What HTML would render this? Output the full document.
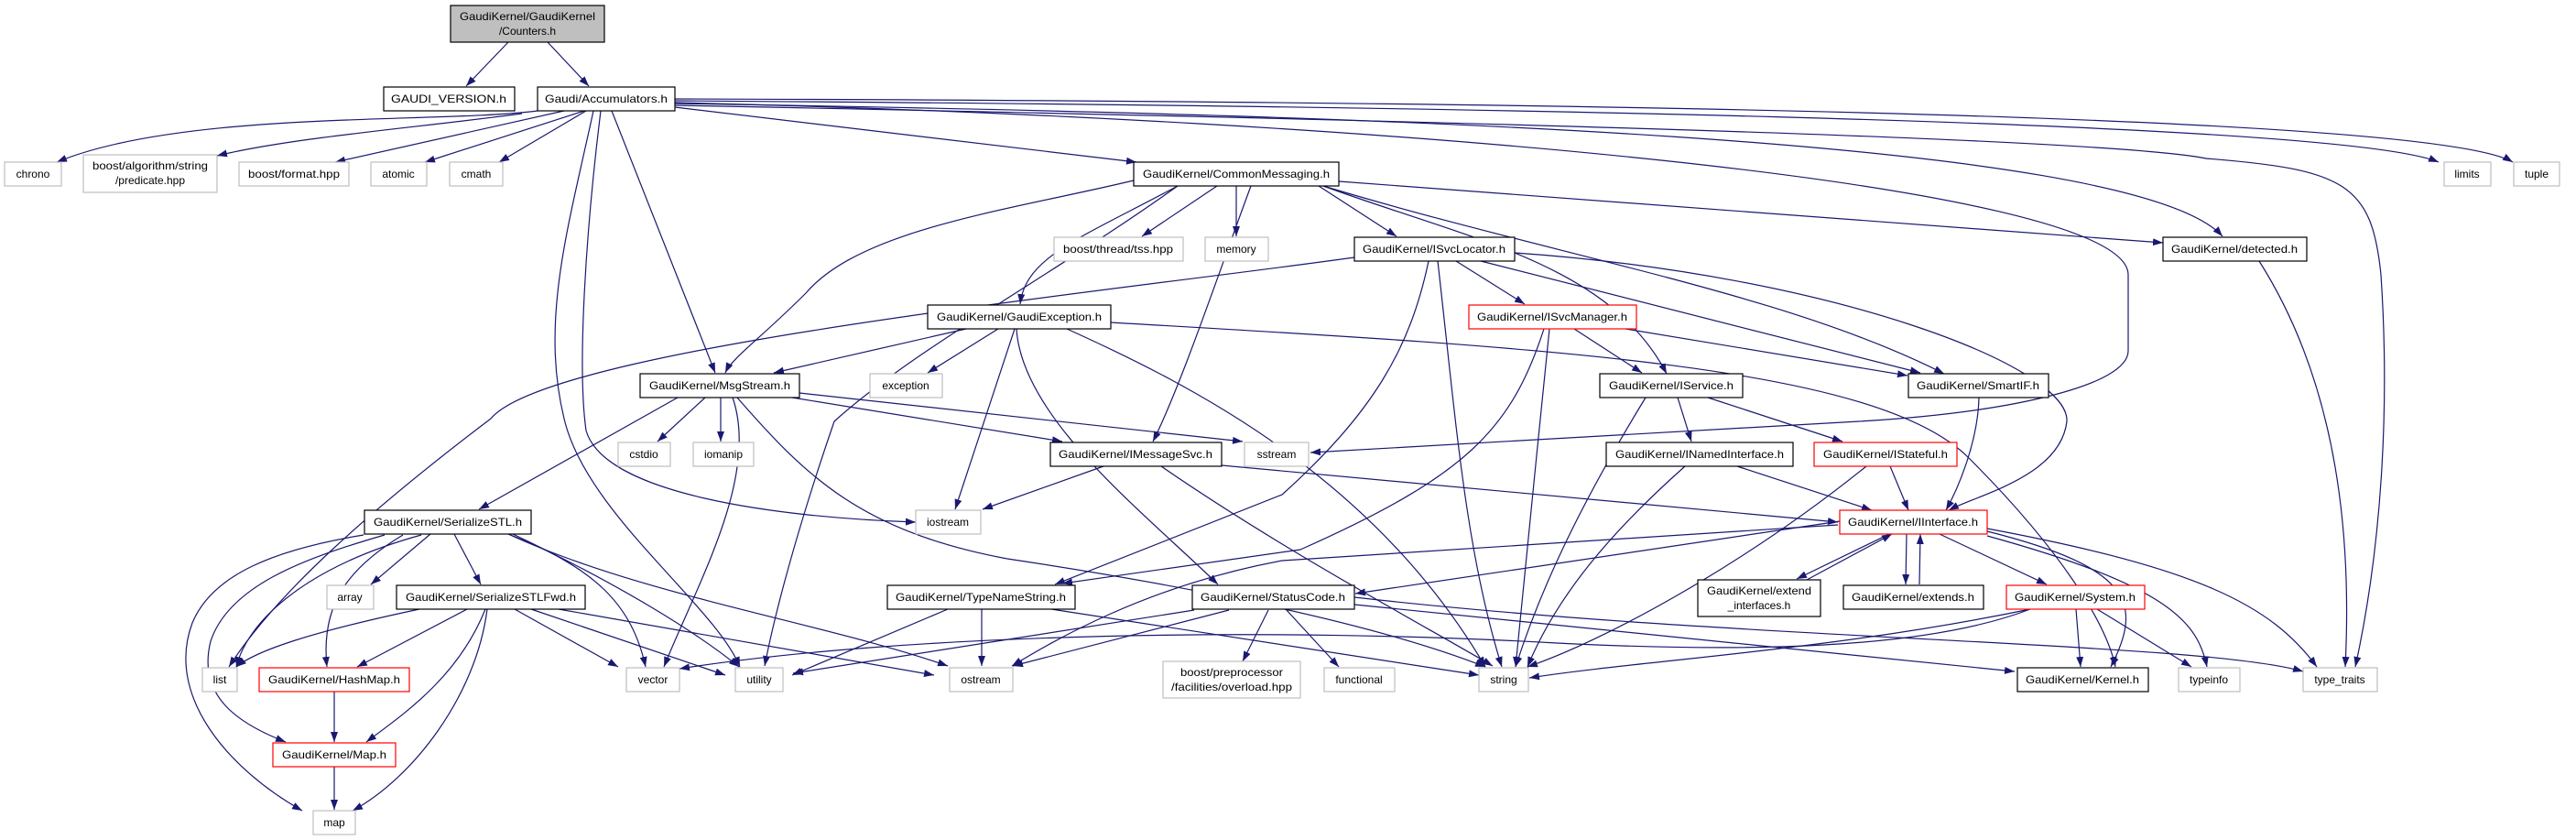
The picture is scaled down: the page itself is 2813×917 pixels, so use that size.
<!DOCTYPE html>
<html><head><meta charset="utf-8"><style>
html,body{margin:0;padding:0;background:#fff}
svg{display:block}
text{font-family:"Liberation Sans",sans-serif;font-size:12px;fill:#000}
.e{fill:none;stroke:#191970;stroke-width:1.2}
.g{fill:#fff;stroke:#bfbfbf;stroke-width:1.2}
.b{fill:#fff;stroke:#000;stroke-width:1.2}
.r{fill:#fff;stroke:#ff0000;stroke-width:1.2}
</style></head><body>
<svg width="2813" height="917" viewBox="0 0 2813 917" xmlns="http://www.w3.org/2000/svg">
<defs><marker id="a" markerUnits="userSpaceOnUse" markerWidth="12" markerHeight="10" refX="11" refY="4" orient="auto"><path d="M0,0 L11,4 L0,8 z" fill="#191970"/></marker></defs>
<g class="e" marker-end="url(#a)">
<path d="M555,46 L509,94"/>
<path d="M598,46 L643,94"/>
<path d="M587,121 C480,135 200,120 62,177"/>
<path d="M570,124 C450,140 320,150 237,170"/>
<path d="M616,121 L366,177"/>
<path d="M638,121 L464,177"/>
<path d="M640,121 L545,177"/>
<path d="M648,121 C620,250 590,350 616,457 C640,560 780,660 808,728"/>
<path d="M656,121 C640,250 630,400 640,470 C660,540 850,565 1000,570"/>
<path d="M668,121 L781,407"/>
<path d="M737,117 L1241,177"/>
<path d="M737,113 C1500,125 2330,150 2427,258"/>
<path d="M737,110 C1500,115 2550,130 2663,177"/>
<path d="M737,108 C1500,110 2650,120 2744,177"/>
<path d="M737,115 C1500,130 2300,150 2409,173 C2560,185 2590,200 2600,300 C2610,450 2600,600 2572,728"/>
<path d="M737,112 C1500,130 2324,200 2324,300 L2324,383 C2324,420 2200,450 2030,460 L1431,494"/>
<path d="M1238,197 C1100,230 940,250 880,320 C830,370 800,390 792,407"/>
<path d="M1286,203 C1150,300 1000,380 911,460 C880,550 850,650 835,727"/>
<path d="M1286,203 C1180,260 1120,280 1114,332"/>
<path d="M1329,203 L1247,258"/>
<path d="M1350,203 L1350,258"/>
<path d="M1366,203 C1330,300 1290,420 1259,482"/>
<path d="M1440,203 L1525,258"/>
<path d="M1445,203 C1600,260 1757,287 1820,408"/>
<path d="M1445,203 C1700,280 1950,320 2123,408"/>
<path d="M1462,198 L2362,265"/>
<path d="M1479,281 C1200,320 600,380 536,457 C400,560 300,650 250,728"/>
<path d="M1560,285 C1540,380 1500,450 1400,540 L1152,638"/>
<path d="M1570,285 C1590,460 1600,600 1640,728"/>
<path d="M1590,285 L1665,332"/>
<path d="M1617,285 L2097,407"/>
<path d="M1654,276 C2000,300 2260,400 2257,460 C2250,520 2160,540 2128,557"/>
<path d="M1719,359 L1793,407"/>
<path d="M1775,359 L2083,410"/>
<path d="M1692,359 C1680,480 1665,620 1655,728"/>
<path d="M1686,359 C1650,470 1600,520 1420,600 L1160,637"/>
<path d="M1055,359 L845,407"/>
<path d="M1090,359 L1013,407"/>
<path d="M1108,359 L1043,556"/>
<path d="M1110,359 C1116,457 1250,560 1330,638"/>
<path d="M1165,359 C1300,420 1500,520 1622,728"/>
<path d="M1213,352 C1700,380 2050,400 2150,500 C2250,600 2300,680 2310,728"/>
<path d="M740,434 L523,556"/>
<path d="M770,434 L718,482"/>
<path d="M787,434 L787,482"/>
<path d="M800,434 C830,520 760,640 725,728"/>
<path d="M805,434 C880,520 940,580 1100,610 C1300,640 1500,680 1622,728"/>
<path d="M865,434 L1160,482"/>
<path d="M873,429 L1357,482"/>
<path d="M1205,509 L1073,556"/>
<path d="M1268,509 C1400,600 1550,680 1630,727"/>
<path d="M1334,508 L2007,570"/>
<path d="M397,584 C300,600 232,627 210,680 C180,760 250,840 330,885"/>
<path d="M420,584 C330,610 250,640 230,700 C215,760 260,790 312,810"/>
<path d="M440,584 C380,620 350,660 357,728"/>
<path d="M460,584 C330,620 270,680 258,728"/>
<path d="M470,583 L405,638"/>
<path d="M496,583 L525,638"/>
<path d="M555,583 C650,620 690,660 705,728"/>
<path d="M560,583 C680,640 760,690 807,728"/>
<path d="M555,583 C700,650 900,680 1035,727"/>
<path d="M458,665 C340,690 280,710 258,728"/>
<path d="M510,665 L390,728"/>
<path d="M530,665 C500,740 440,780 400,810"/>
<path d="M532,665 C520,760 450,850 385,885"/>
<path d="M562,665 L675,728"/>
<path d="M580,665 L792,737"/>
<path d="M610,665 L1020,737"/>
<path d="M365,755 L365,810"/>
<path d="M365,837 L365,884"/>
<path d="M1035,665 L865,737"/>
<path d="M1072,665 L1072,727"/>
<path d="M1148,665 L1615,737"/>
<path d="M1304,666 L866,735"/>
<path d="M1342,666 L1106,727"/>
<path d="M1385,666 L1357,722"/>
<path d="M1404,665 L1462,728"/>
<path d="M1479,660 L2200,733"/>
<path d="M1479,652 C1900,700 2400,700 2515,733"/>
<path d="M1897,509 L2044,557"/>
<path d="M1840,509 C1760,580 1700,650 1668,728"/>
<path d="M2064,509 L2084,557"/>
<path d="M2038,509 C1900,620 1750,700 1668,728"/>
<path d="M1832,434 L1847,482"/>
<path d="M1865,434 L2012,482"/>
<path d="M1797,434 C1720,560 1680,650 1655,728"/>
<path d="M2161,434 C2160,480 2140,530 2125,557"/>
<path d="M2467,285 C2540,400 2570,550 2561,728"/>
<path d="M2009,569 L1480,648"/>
<path d="M2007,573 C1800,585 1600,600 1400,612 C1250,640 1150,700 1105,727"/>
<path d="M2063,583 L1962,632"/>
<path d="M1973,633 L2066,583"/>
<path d="M2082,583 L2081,638"/>
<path d="M2096,638 L2097,583"/>
<path d="M2118,583 L2235,638"/>
<path d="M2170,580 C2330,620 2340,660 2305,728"/>
<path d="M2170,585 C2370,640 2400,680 2410,728"/>
<path d="M2170,577 C2400,620 2480,660 2530,728"/>
<path d="M2267,665 L2272,728"/>
<path d="M2290,665 L2393,728"/>
<path d="M2217,665 C2000,710 1800,720 1670,740"/>
<path d="M2217,665 C2100,710 1900,712 1700,702 C1400,685 1000,690 742,730"/>
</g>
<g>
<rect x="492" y="6" width="168" height="40" fill="#bfbfbf" stroke="#000" stroke-width="1.2"/>
<text x="576" y="22" text-anchor="middle" textLength="148" lengthAdjust="spacingAndGlyphs">GaudiKernel/GaudiKernel</text>
<text x="576" y="38" text-anchor="middle">/Counters.h</text>
<rect class="b" x="419" y="95" width="143" height="26"/><text x="490" y="112" text-anchor="middle" textLength="126" lengthAdjust="spacingAndGlyphs">GAUDI_VERSION.h</text>
<rect class="b" x="587" y="95" width="150" height="26"/><text x="662" y="112" text-anchor="middle" textLength="134" lengthAdjust="spacingAndGlyphs">Gaudi/Accumulators.h</text>
<rect class="g" x="5" y="177" width="62" height="26"/><text x="36" y="194" text-anchor="middle">chrono</text>
<rect class="g" x="91" y="169" width="146" height="41"/><text x="164" y="185" text-anchor="middle" textLength="126" lengthAdjust="spacingAndGlyphs">boost/algorithm/string</text><text x="164" y="201" text-anchor="middle">/predicate.hpp</text>
<rect class="g" x="261" y="177" width="120" height="26"/><text x="321" y="194" text-anchor="middle" textLength="100" lengthAdjust="spacingAndGlyphs">boost/format.hpp</text>
<rect class="g" x="405" y="177" width="61" height="26"/><text x="435" y="194" text-anchor="middle">atomic</text>
<rect class="g" x="491" y="177" width="58" height="26"/><text x="520" y="194" text-anchor="middle">cmath</text>
<rect class="b" x="1238" y="177" width="224" height="26"/><text x="1350" y="194" text-anchor="middle" textLength="204" lengthAdjust="spacingAndGlyphs">GaudiKernel/CommonMessaging.h</text>
<rect class="g" x="2669" y="177" width="51" height="26"/><text x="2694" y="194" text-anchor="middle">limits</text>
<rect class="g" x="2745" y="177" width="50" height="26"/><text x="2770" y="194" text-anchor="middle">tuple</text>
<rect class="g" x="1151" y="259" width="141" height="26"/><text x="1221" y="276" text-anchor="middle" textLength="120" lengthAdjust="spacingAndGlyphs">boost/thread/tss.hpp</text>
<rect class="g" x="1316" y="259" width="69" height="26"/><text x="1350" y="276" text-anchor="middle">memory</text>
<rect class="b" x="1479" y="259" width="175" height="26"/><text x="1566" y="276" text-anchor="middle" textLength="156" lengthAdjust="spacingAndGlyphs">GaudiKernel/ISvcLocator.h</text>
<rect class="b" x="2362" y="259" width="157" height="26"/><text x="2440" y="276" text-anchor="middle" textLength="138" lengthAdjust="spacingAndGlyphs">GaudiKernel/detected.h</text>
<rect class="b" x="1013" y="333" width="200" height="26"/><text x="1113" y="350" text-anchor="middle" textLength="180" lengthAdjust="spacingAndGlyphs">GaudiKernel/GaudiException.h</text>
<rect class="r" x="1604" y="333" width="183" height="26"/><text x="1695" y="350" text-anchor="middle" textLength="164" lengthAdjust="spacingAndGlyphs">GaudiKernel/ISvcManager.h</text>
<rect class="b" x="699" y="408" width="174" height="26"/><text x="786" y="425" text-anchor="middle" textLength="154" lengthAdjust="spacingAndGlyphs">GaudiKernel/MsgStream.h</text>
<rect class="g" x="950" y="408" width="79" height="26"/><text x="989" y="425" text-anchor="middle">exception</text>
<rect class="b" x="1747" y="408" width="156" height="26"/><text x="1825" y="425" text-anchor="middle" textLength="136" lengthAdjust="spacingAndGlyphs">GaudiKernel/IService.h</text>
<rect class="b" x="2084" y="408" width="153" height="26"/><text x="2160" y="425" text-anchor="middle" textLength="134" lengthAdjust="spacingAndGlyphs">GaudiKernel/SmartIF.h</text>
<rect class="g" x="675" y="483" width="57" height="26"/><text x="703" y="500" text-anchor="middle">cstdio</text>
<rect class="g" x="757" y="483" width="66" height="26"/><text x="790" y="500" text-anchor="middle">iomanip</text>
<rect class="b" x="1147" y="483" width="187" height="26"/><text x="1240" y="500" text-anchor="middle" textLength="168" lengthAdjust="spacingAndGlyphs">GaudiKernel/IMessageSvc.h</text>
<rect class="g" x="1359" y="483" width="70" height="26"/><text x="1394" y="500" text-anchor="middle">sstream</text>
<rect class="b" x="1754" y="483" width="204" height="26"/><text x="1856" y="500" text-anchor="middle" textLength="184" lengthAdjust="spacingAndGlyphs">GaudiKernel/INamedInterface.h</text>
<rect class="r" x="1981" y="483" width="156" height="26"/><text x="2059" y="500" text-anchor="middle" textLength="136" lengthAdjust="spacingAndGlyphs">GaudiKernel/IStateful.h</text>
<rect class="g" x="1000" y="557" width="71" height="26"/><text x="1035" y="574" text-anchor="middle">iostream</text>
<rect class="b" x="398" y="557" width="182" height="26"/><text x="489" y="574" text-anchor="middle" textLength="162" lengthAdjust="spacingAndGlyphs">GaudiKernel/SerializeSTL.h</text>
<rect class="r" x="2009" y="557" width="161" height="26"/><text x="2089" y="574" text-anchor="middle" textLength="142" lengthAdjust="spacingAndGlyphs">GaudiKernel/IInterface.h</text>
<rect class="g" x="357" y="639" width="51" height="26"/><text x="382" y="656" text-anchor="middle">array</text>
<rect class="b" x="433" y="639" width="206" height="26"/><text x="536" y="656" text-anchor="middle" textLength="186" lengthAdjust="spacingAndGlyphs">GaudiKernel/SerializeSTLFwd.h</text>
<rect class="b" x="969" y="639" width="205" height="26"/><text x="1071" y="656" text-anchor="middle" textLength="186" lengthAdjust="spacingAndGlyphs">GaudiKernel/TypeNameString.h</text>
<rect class="b" x="1302" y="639" width="177" height="26"/><text x="1390" y="656" text-anchor="middle" textLength="158" lengthAdjust="spacingAndGlyphs">GaudiKernel/StatusCode.h</text>
<rect class="b" x="1854" y="633" width="134" height="40"/><text x="1921" y="649" text-anchor="middle" textLength="114" lengthAdjust="spacingAndGlyphs">GaudiKernel/extend</text><text x="1921" y="665" text-anchor="middle">_interfaces.h</text>
<rect class="b" x="2013" y="639" width="153" height="26"/><text x="2089" y="656" text-anchor="middle" textLength="134" lengthAdjust="spacingAndGlyphs">GaudiKernel/extends.h</text>
<rect class="r" x="2191" y="639" width="151" height="26"/><text x="2266" y="656" text-anchor="middle" textLength="132" lengthAdjust="spacingAndGlyphs">GaudiKernel/System.h</text>
<rect class="g" x="221" y="729" width="38" height="26"/><text x="240" y="746" text-anchor="middle">list</text>
<rect class="r" x="283" y="729" width="164" height="26"/><text x="365" y="746" text-anchor="middle" textLength="144" lengthAdjust="spacingAndGlyphs">GaudiKernel/HashMap.h</text>
<rect class="g" x="684" y="729" width="58" height="26"/><text x="713" y="746" text-anchor="middle">vector</text>
<rect class="g" x="803" y="729" width="52" height="26"/><text x="829" y="746" text-anchor="middle">utility</text>
<rect class="g" x="1037" y="729" width="69" height="26"/><text x="1071" y="746" text-anchor="middle">ostream</text>
<rect class="g" x="1270" y="722" width="150" height="40"/><text x="1345" y="738" text-anchor="middle" textLength="112" lengthAdjust="spacingAndGlyphs">boost/preprocessor</text><text x="1345" y="754" text-anchor="middle" textLength="132" lengthAdjust="spacingAndGlyphs">/facilities/overload.hpp</text>
<rect class="g" x="1446" y="729" width="77" height="26"/><text x="1484" y="746" text-anchor="middle">functional</text>
<rect class="g" x="1615" y="729" width="54" height="26"/><text x="1642" y="746" text-anchor="middle">string</text>
<rect class="b" x="2203" y="729" width="143" height="26"/><text x="2274" y="746" text-anchor="middle" textLength="124" lengthAdjust="spacingAndGlyphs">GaudiKernel/Kernel.h</text>
<rect class="g" x="2379" y="729" width="67" height="26"/><text x="2412" y="746" text-anchor="middle">typeinfo</text>
<rect class="g" x="2515" y="729" width="81" height="26"/><text x="2555" y="746" text-anchor="middle">type_traits</text>
<rect class="r" x="298" y="811" width="134" height="26"/><text x="365" y="828" text-anchor="middle" textLength="114" lengthAdjust="spacingAndGlyphs">GaudiKernel/Map.h</text>
<rect class="g" x="342" y="885" width="46" height="26"/><text x="365" y="902" text-anchor="middle">map</text>
</g>
</svg>
</body></html>
